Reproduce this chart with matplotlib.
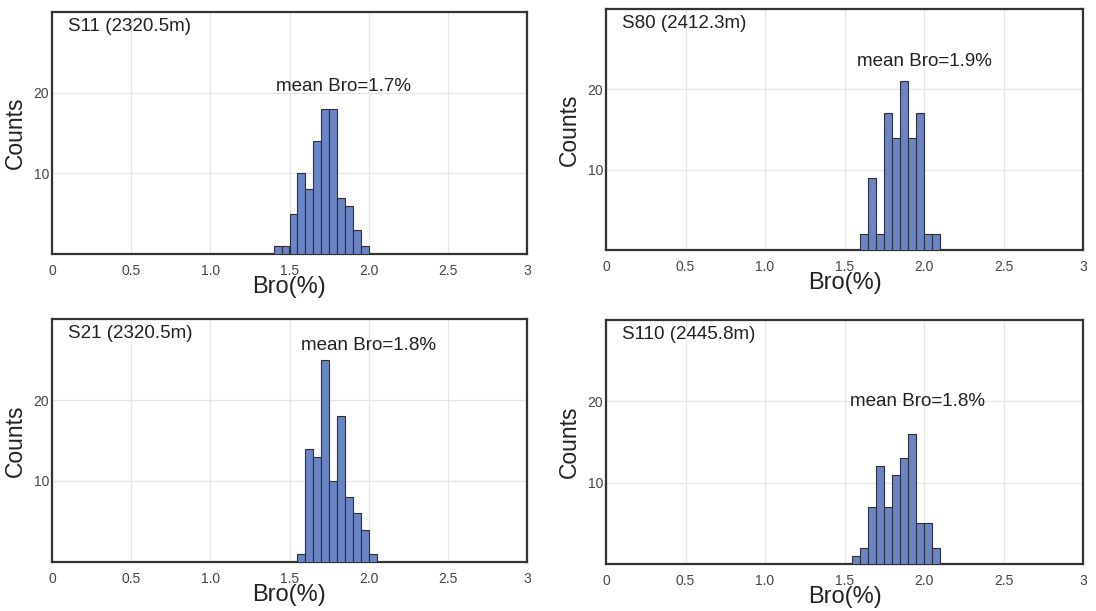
import numpy as np
import matplotlib
matplotlib.use('Agg')
import matplotlib.pyplot as plt

plt.rcParams['font.family'] = ['Liberation Sans', 'DejaVu Sans']

# ---- data ----
s11_left = [1.40, 1.45, 1.50, 1.55, 1.60, 1.65, 1.70, 1.75, 1.80, 1.85, 1.90, 1.95]
s11_count = [1, 1, 5, 10, 8, 14, 18, 18, 7, 6, 3, 1]

s80_left = [1.60, 1.65, 1.70, 1.75, 1.80, 1.85, 1.90, 1.95, 2.00, 2.05]
s80_count = [2, 9, 2, 17, 14, 21, 14, 17, 2, 2]

s21_left = [1.55, 1.60, 1.65, 1.70, 1.75, 1.80, 1.85, 1.90, 1.95, 2.00]
s21_count = [1, 14, 13, 25, 10, 18, 8, 6, 4, 1]

s110_left = [1.55, 1.60, 1.65, 1.70, 1.75, 1.80, 1.85, 1.90, 1.95, 2.00, 2.05]
s110_count = [1, 2, 7, 12, 7, 11, 13, 16, 5, 5, 2]

samples = ['S11 (2320.5m)', 'S80 (2412.3m)', 'S21 (2320.5m)', 'S110 (2445.8m)']
means = ['mean Bro=1.7%', 'mean Bro=1.9%', 'mean Bro=1.8%', 'mean Bro=1.8%']
mean_pos = [(1.84, 20.8), (2.0, 23.5), (2.0, 26.7), (1.96, 20.0)]

xticks = [0, 0.5, 1.0, 1.5, 2.0, 2.5, 3]
xticklabels = ['0', '0.5', '1.0', '1.5', '2.0', '2.5', '3']
yticks = [10, 20]

BIN_W = 0.05
W, H = 1096, 611

# axes boxes in pixels: left, top, right, bottom
boxes = [(52, 12, 527, 254), (606, 9, 1083, 250),
         (52, 319, 527, 562), (606, 320, 1083, 564)]

fig = plt.figure(figsize=(W / 100, H / 100), dpi=100)
fig.patch.set_facecolor('white')

data = [(s11_left, s11_count), (s80_left, s80_count),
        (s21_left, s21_count), (s110_left, s110_count)]

for i, (left, count) in enumerate(data):
    l, t, r, b = boxes[i]
    ax = fig.add_axes([l / W, (H - b) / H, (r - l) / W, (b - t) / H])

    ax.bar(left, count, width=BIN_W, align='edge', color='#6b84c3',
           edgecolor='#2b2f3f', linewidth=0.8, zorder=3)

    ax.set_xlim(0, 3)
    ax.set_ylim(0, 30)
    ax.set_xticks(xticks)
    ax.set_xticklabels(xticklabels)
    ax.set_yticks(yticks)
    ax.grid(True, color='#e6e6e6', linewidth=0.9, zorder=0)
    ax.set_axisbelow(True)
    ax.tick_params(length=0, labelsize=10, colors='#444444', pad=7)
    ax.tick_params(axis='y', pad=2)
    for sp in ax.spines.values():
        sp.set_color('#333333')
        sp.set_linewidth(1.6)

    ax.set_xlabel('Bro(%)', fontsize=17, color='#222222', labelpad=-1)
    ax.set_ylabel('Counts', fontsize=16.5, color='#222222', labelpad=5)

    ax.text(0.034, 0.94, samples[i], transform=ax.transAxes, fontsize=13.5,
            color='#222222', va='center', ha='left')
    mx, my = mean_pos[i]
    ax.text(mx, my, means[i], fontsize=13.5, color='#222222',
            ha='center', va='center')

plt.savefig('out.png', dpi=100)
